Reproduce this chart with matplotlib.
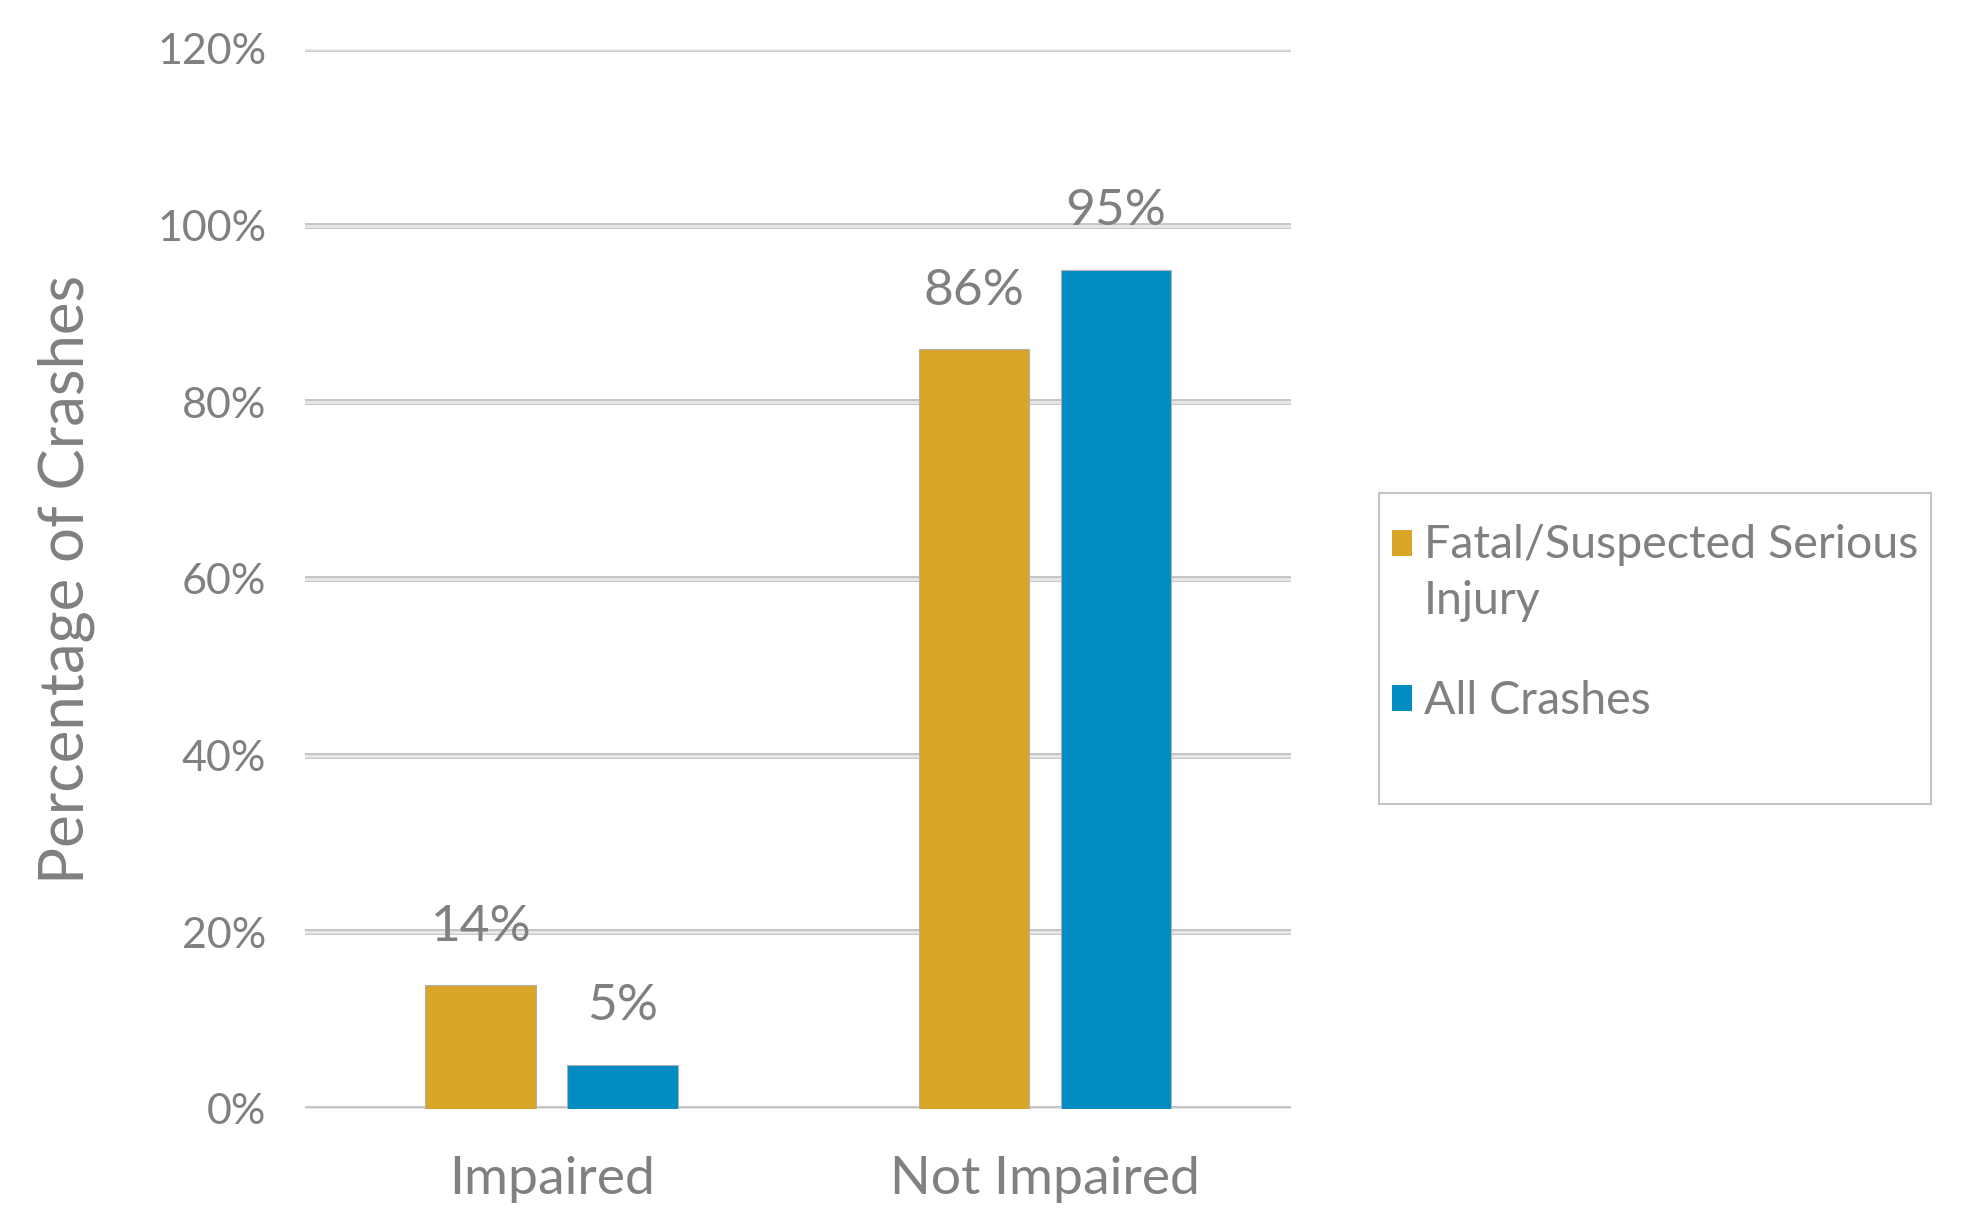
import numpy as np
import matplotlib.pyplot as plt
from matplotlib.patches import Rectangle

plt.rcParams['font.family'] = ['Lato', 'DejaVu Sans']

# Data
categories = ["Impaired", "Not Impaired"]
series_names = ["Fatal/Suspected Serious\nInjury", "All Crashes"]
fatal_serious = [14, 86]
all_crashes = [5, 95]
colors = ["#DAA629", "#028DC2"]
text_gray = "#808080"

W, H = 1969, 1218
fig = plt.figure(figsize=(W / 100, H / 100), dpi=100)
ax = fig.add_axes([0.155, 0.0895, 0.5008, 0.8703])

x = np.arange(len(categories))
width = 0.224
offset = 0.144

for vals, off, col in [(fatal_serious, -offset, colors[0]), (all_crashes, offset, colors[1])]:
    bars = ax.bar(x + off, vals, width, color=col, edgecolor="#b0b0b0", linewidth=0.8, zorder=3)
    for b, v in zip(bars, vals):
        ax.annotate(f"{v}%", (b.get_x() + b.get_width() / 2, v), xytext=(0, 42),
                    textcoords="offset points", ha="center", va="center",
                    fontsize=37, color=text_gray, zorder=5)

# gridlines drawn as double-edged light gray bands
yticks = np.arange(0, 121, 20)
for yv in yticks:
    ax.axhline(yv, color="#c4c4c4", linewidth=4.2, zorder=1, solid_capstyle="round")
    ax.axhline(yv, color="#e8e8e8", linewidth=2.0, zorder=2, solid_capstyle="round")

ax.set_xlim(-0.5, 1.5)
ax.set_ylim(0, 120)
ax.set_yticks(yticks)
ax.set_yticklabels([f"{t}%" for t in yticks], fontsize=31, color=text_gray)
ax.set_xticks(x)
ax.set_xticklabels(categories, fontsize=38.5, color=text_gray)
ax.tick_params(axis="both", length=0)
ax.tick_params(axis="y", pad=28)
ax.tick_params(axis="x", pad=34)
for s in ax.spines.values():
    s.set_visible(False)

ax.set_ylabel("Percentage of Crashes", fontsize=44.5, color=text_gray)
ax.yaxis.set_label_coords(-0.213, 0.5)

# legend box drawn by hand so the swatch sits beside the first line
fig.add_artist(Rectangle((1379 / W, 1 - 804 / H), (1931 - 1379) / W, (804 - 493) / H,
                         transform=fig.transFigure, facecolor="white",
                         edgecolor="#c4c4c4", linewidth=1.5))
swatch_top = [530, 685]
text_top = [524, 680]
for col, name, st, tt in zip(colors, series_names, swatch_top, text_top):
    fig.add_artist(Rectangle((1392 / W, 1 - (st + 26) / H), 20 / W, 26 / H,
                             transform=fig.transFigure, facecolor=col, edgecolor="none"))
    fig.text(1424 / W, 1 - tt / H, name, fontsize=33.5, color=text_gray,
             ha="left", va="top", linespacing=1.4)

fig.savefig("out.png", dpi=100, facecolor="white")
